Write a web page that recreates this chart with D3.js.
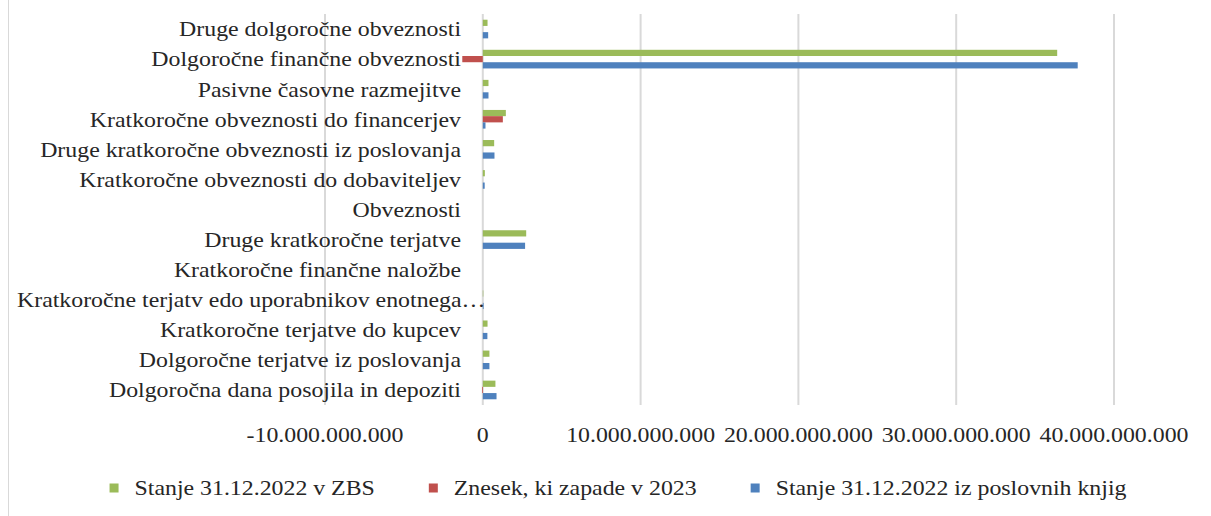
<!DOCTYPE html>
<html lang="en">
<head>
    <meta charset="UTF-8">
    <title>Obveznosti in terjatve</title>
    <script src="https://d3js.org/d3.v7.min.js"></script>
    <style>
        body { margin: 0; background: #fff; }
    </style>
</head>
<body>
<script>

    const width = 1211;
    const height = 516;

    const categories = [
        'Druge dolgoročne obveznosti',
        'Dolgoročne finančne obveznosti',
        'Pasivne časovne razmejitve',
        'Kratkoročne obveznosti do financerjev',
        'Druge kratkoročne obveznosti iz poslovanja',
        'Kratkoročne obveznosti do dobaviteljev',
        'Obveznosti',
        'Druge kratkoročne terjatve',
        'Kratkoročne finančne naložbe',
        'Kratkoročne terjatv edo uporabnikov enotnega…',
        'Kratkoročne terjatve do kupcev',
        'Dolgoročne terjatve iz poslovanja',
        'Dolgoročna dana posojila in depoziti'
    ];

    const seriesNames = ['Stanje 31.12.2022 v ZBS', 'Znesek, ki zapade v 2023', 'Stanje 31.12.2022 iz poslovnih knjig'];
    const seriesColors = ['#9bbb59', '#c0504d', '#4f81bd'];

    // values in EUR
    const zbs     = [0.30e9, 36.4e9, 0.36e9, 1.46e9, 0.72e9, 0.13e9, 0, 2.75e9, 0, 0.03e9, 0.30e9, 0.42e9, 0.80e9];
    const zapade  = [0, -1.3e9, 0, 1.27e9, 0, 0, 0, 0, 0, 0, 0, 0, -0.05e9];
    const knjige  = [0.34e9, 37.7e9, 0.36e9, 0.17e9, 0.74e9, 0.12e9, 0, 2.68e9, 0, 0.05e9, 0.29e9, 0.42e9, 0.87e9];
    const series = [zbs, zapade, knjige];

    const ticks = [-10e9, 0, 10e9, 20e9, 30e9, 40e9];

    const fontFamily = "'Liberation Serif', 'Times New Roman', Tinos, 'DejaVu Serif', serif";
    const fontSize = 21;
    const textColor = "#262626";

    const svg = d3.select("body").append("svg")
        .attr("width", width).attr("height", height)
        .attr("font-family", fontFamily);

    // the original text is a bit wide for its height: fit the tick label width seen in the picture
    const probe = svg.append("text").attr("font-size", fontSize).text("10.000.000.000");
    const stretch = 149 / probe.node().getComputedTextLength();
    probe.remove();

    // chart frame edge
    svg.append("line").attr("x1", 8.5).attr("x2", 8.5).attr("y1", 0).attr("y2", height)
        .attr("stroke", "#d9d9d9").attr("stroke-width", 1);

    const x = d3.scaleLinear().domain([-10e9, 40e9]).range([325, 1114]);
    const y = d3.scaleBand().domain(categories).range([14, 405]).paddingInner(0.38).paddingOuter(0.19);
    const ySub = d3.scaleBand().domain(d3.range(series.length)).range([0, y.bandwidth()]);

    const fmt = v => d3.format(",.0f")(v).replace(/,/g, ".").replace("−", "-");

    // gridlines
    svg.append("g").selectAll("line").data(ticks).join("line")
        .attr("x1", d => x(d)).attr("x2", d => x(d))
        .attr("y1", 14).attr("y2", 405)
        .attr("stroke", "#d9d9d9").attr("stroke-width", 2);

    // bars
    series.forEach(function(vals, si) {
        svg.append("g").attr("fill", seriesColors[si]).selectAll("rect").data(vals).join("rect")
            .attr("x", d => x(Math.min(0, d)))
            .attr("width", d => Math.abs(x(d) - x(0)))
            .attr("y", (d, i) => y(categories[i]) + ySub(si))
            .attr("height", ySub.bandwidth());
    });

    // category labels
    const labels = svg.append("g").selectAll("text").data(categories).join("text")
        .attr("dy", "0.35em")
        .attr("font-size", fontSize)
        .attr("fill", textColor)
        .text(d => d);
    labels.each(function(d) {
        const t = d3.select(this);
        const w = this.getComputedTextLength() * stretch;
        const cy = y(d) + y.bandwidth() / 2;
        if (w > 461 - 17) t.attr("text-anchor", "start").attr("transform", `translate(17,${cy}) scale(${stretch},1)`);
        else t.attr("text-anchor", "end").attr("transform", `translate(461,${cy}) scale(${stretch},1)`);
    });

    // value axis labels
    svg.append("g").selectAll("text").data(ticks).join("text")
        .attr("transform", d => `translate(${x(d)},435) scale(${stretch},1)`)
        .attr("dy", "0.35em")
        .attr("text-anchor", "middle")
        .attr("font-size", fontSize)
        .attr("fill", textColor)
        .text(fmt);

    // legend
    const legend = svg.append("g");
    const items = legend.selectAll("g").data(seriesNames).join("g");
    items.append("rect").attr("width", 9).attr("height", 9).attr("y", -4.5)
        .attr("fill", (d, i) => seriesColors[i]);
    items.append("text").attr("transform", `translate(25,0) scale(${stretch},1)`).attr("dy", "0.35em")
        .attr("font-size", fontSize).attr("fill", textColor).text(d => d);
    const widths = [];
    items.each(function() {
        widths.push(25 + d3.select(this).select("text").node().getComputedTextLength() * stretch);
    });
    const gap = 54;
    const total = d3.sum(widths) + gap * (widths.length - 1);
    let lx = 618 - total / 2;
    items.attr("transform", function(d, i) {
        const t = `translate(${lx},488)`;
        lx += widths[i] + gap;
        return t;
    });

</script>
</body>
</html>
